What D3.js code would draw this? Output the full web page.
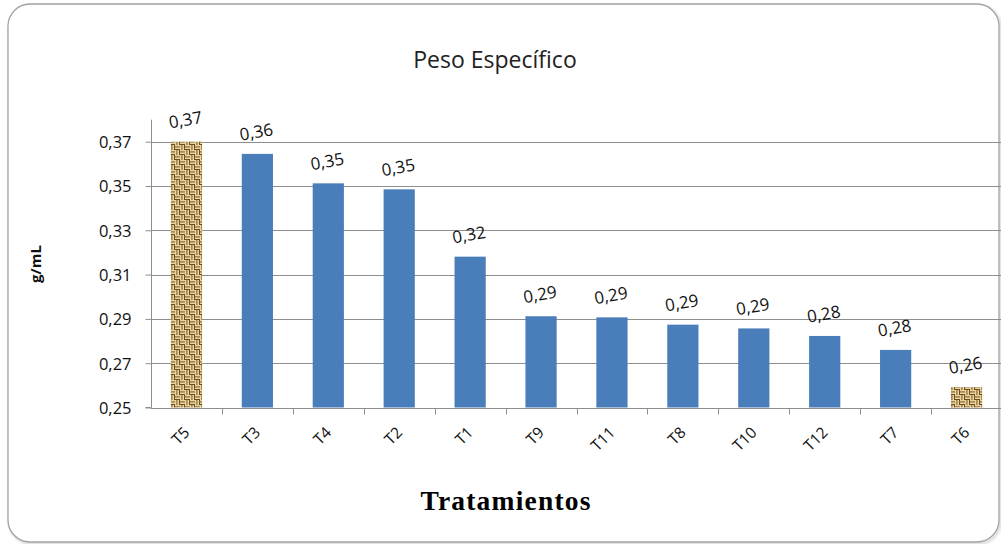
<!DOCTYPE html>
<html>
<head>
<meta charset="utf-8">
<script src="https://cdn.jsdelivr.net/npm/d3@7"></script>
<style>
  html, body { margin: 0; padding: 0; background: #ffffff; }
  svg { display: block; }
</style>
</head>
<body>
<svg id="chart" width="1001" height="544"></svg>
<script>
// Peso específico por tratamiento (g/mL), ordenado de mayor a menor
const categories = ["T5", "T3", "T4", "T2", "T1", "T9", "T11", "T8", "T10", "T12", "T7", "T6"];
const values = [0.370, 0.3645, 0.3512, 0.3485, 0.3181, 0.2912, 0.2907, 0.2874, 0.2857, 0.2823, 0.2760, 0.2592];
const highlighted = ["T5", "T6"];
const yTicks = [0.25, 0.27, 0.29, 0.31, 0.33, 0.35, 0.37];
const titleText = "Peso Específico";
const xTitle = "Tratamientos";
const yTitle = "g/mL";

const esFormat = d3.formatLocale({ decimal: ",", thousands: ".", grouping: [3], currency: ["", " €"] }).format(".2f");

const svg = d3.select("#chart");
const plot = { left: 151, right: 1002, top: 141.7, bottom: 407.5 };

// Textured fill (woven canvas) for the extreme treatments
const defs = svg.append("defs");
const pat = defs.append("pattern")
  .attr("id", "weave")
  .attr("patternUnits", "userSpaceOnUse")
  .attr("width", 10).attr("height", 10);
pat.append("rect").attr("width", 10).attr("height", 10).attr("fill", "#b48e4c");
const light = "#e8d49e", dark = "#654617";
// basket weave: horizontal strands in two quadrants, vertical in the other two
[[0, 0], [5, 5]].forEach(([ox, oy]) => {
  pat.append("rect").attr("x", ox).attr("y", oy).attr("width", 5).attr("height", 1.6).attr("fill", light);
  pat.append("rect").attr("x", ox).attr("y", oy + 1.6).attr("width", 5).attr("height", 0.9).attr("fill", dark);
  pat.append("rect").attr("x", ox).attr("y", oy + 2.5).attr("width", 5).attr("height", 1.6).attr("fill", light);
  pat.append("rect").attr("x", ox).attr("y", oy + 4.1).attr("width", 5).attr("height", 0.9).attr("fill", dark);
});
[[5, 0], [0, 5]].forEach(([ox, oy]) => {
  pat.append("rect").attr("x", ox).attr("y", oy).attr("width", 1.6).attr("height", 5).attr("fill", light);
  pat.append("rect").attr("x", ox + 1.6).attr("y", oy).attr("width", 0.9).attr("height", 5).attr("fill", dark);
  pat.append("rect").attr("x", ox + 2.5).attr("y", oy).attr("width", 1.6).attr("height", 5).attr("fill", light);
  pat.append("rect").attr("x", ox + 4.1).attr("y", oy).attr("width", 0.9).attr("height", 5).attr("fill", dark);
});

// Chart frame
const shadow = defs.append("filter").attr("id", "soft").attr("x", "-5%").attr("y", "-5%").attr("width", "110%").attr("height", "110%");
shadow.append("feGaussianBlur").attr("stdDeviation", 1.2);
svg.append("rect")
  .attr("x", 9.5).attr("y", 5.5).attr("width", 991).attr("height", 538)
  .attr("rx", 22).attr("ry", 22)
  .attr("fill", "none").attr("stroke", "#d8d8d8").attr("stroke-width", 2.5)
  .attr("filter", "url(#soft)");
svg.append("rect")
  .attr("x", 8).attr("y", 4).attr("width", 991).attr("height", 538)
  .attr("rx", 22).attr("ry", 22)
  .attr("fill", "#ffffff").attr("stroke", "#a3a3a3").attr("stroke-width", 1.3);

// Scales
const x = d3.scaleBand().domain(categories).range([plot.left, plot.right]).paddingInner(0.56).paddingOuter(0.28);
const band = d3.scaleBand().domain(categories).range([plot.left, plot.right]);
const y = d3.scaleLinear().domain([0.25, 0.37]).range([plot.bottom, plot.top]);

// Horizontal gridlines
svg.append("g")
  .selectAll("line")
  .data(yTicks.filter(t => t > 0.25))
  .join("line")
  .attr("x1", plot.left).attr("x2", plot.right)
  .attr("y1", d => Math.round(y(d)) + 0.5).attr("y2", d => Math.round(y(d)) + 0.5)
  .attr("stroke", "#8e8e8e").attr("stroke-width", 1);

// Y axis
const yAxis = d3.axisLeft(y).tickValues(yTicks).tickSize(6).tickPadding(14).tickFormat(esFormat);
const gy = svg.append("g").attr("transform", `translate(${plot.left + 0.5},0)`).call(yAxis);
gy.select(".domain").attr("stroke", "#8e8e8e").attr("d", `M-6,${plot.bottom}H0V${plot.top - 22}`);
gy.selectAll(".tick line").attr("stroke", "#8e8e8e");
gy.selectAll(".tick text")
  .attr("fill", "#111").attr("font-family", "'Open Sans', sans-serif").attr("font-size", 16.5)
  .attr("dy", "0.36em");

// Bars
svg.append("g")
  .selectAll("rect")
  .data(categories.map((c, i) => ({ c, v: values[i] })))
  .join("rect")
  .attr("x", d => x(d.c))
  .attr("width", x.bandwidth())
  .attr("y", d => y(d.v))
  .attr("height", d => y(0.25) - y(d.v))
  .attr("fill", d => highlighted.includes(d.c) ? "url(#weave)" : "#4a7ebb");

// X axis line and category separators
const baseY = Math.round(y(0.25)) + 0.5;
svg.append("line")
  .attr("x1", plot.left).attr("x2", plot.right)
  .attr("y1", baseY).attr("y2", baseY)
  .attr("stroke", "#8e8e8e");
svg.append("g")
  .selectAll("line")
  .data(categories.slice(1))
  .join("line")
  .attr("x1", d => Math.round(band(d)) + 0.5).attr("x2", d => Math.round(band(d)) + 0.5)
  .attr("y1", baseY).attr("y2", baseY + 6)
  .attr("stroke", "#8e8e8e");

// Category labels, rotated
svg.append("g")
  .selectAll("text")
  .data(categories)
  .join("text")
  .attr("transform", d => `translate(${band(d) + band.bandwidth() / 2 + 4},${baseY + 25}) rotate(-45)`)
  .attr("text-anchor", "end")
  .attr("font-family", "'Open Sans', sans-serif").attr("font-size", 15.5)
  .attr("fill", "#111")
  .text(d => d);

// Value labels
svg.append("g")
  .selectAll("text")
  .data(categories.map((c, i) => ({ c, v: values[i] })))
  .join("text")
  .attr("transform", d => `translate(${x(d.c) + x.bandwidth() / 2},${y(d.v) - 16}) rotate(-10)`)
  .attr("text-anchor", "middle")
  .attr("font-family", "'Open Sans', sans-serif").attr("font-size", 17)
  .attr("fill", "#111")
  .text(d => esFormat(d.v));

// Titles
svg.append("text")
  .attr("x", 495).attr("y", 68)
  .attr("text-anchor", "middle")
  .attr("font-family", "'Open Sans', sans-serif").attr("font-size", 23)
  .attr("fill", "#222")
  .text(titleText);

svg.append("text")
  .attr("x", 506).attr("y", 510)
  .attr("text-anchor", "middle")
  .attr("font-family", "'Liberation Serif', 'Times New Roman', serif").attr("font-weight", "bold")
  .attr("font-size", 27.5).attr("letter-spacing", 1.2)
  .attr("fill", "#000")
  .text(xTitle);

svg.append("text")
  .attr("transform", "translate(41,264) rotate(-90)")
  .attr("text-anchor", "middle")
  .attr("font-family", "'Open Sans', sans-serif").attr("font-weight", "bold")
  .attr("font-size", 15)
  .attr("fill", "#111")
  .text(yTitle);
</script>
</body>
</html>
